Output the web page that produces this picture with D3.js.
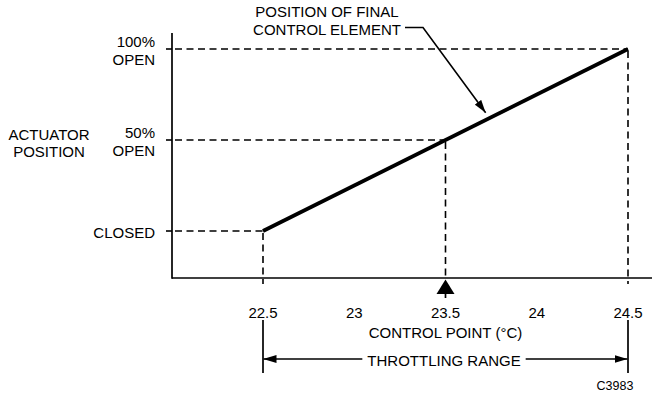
<!DOCTYPE html>
<html><head><meta charset="utf-8">
<script src="https://cdn.jsdelivr.net/npm/d3@7"></script>
<style>
html,body{margin:0;padding:0;background:#fff;}
svg{display:block;}
text{font-family:"Liberation Sans",Arial,sans-serif;fill:#000;}
</style></head>
<body>
<svg id="chart" width="654" height="396"></svg>
<script>
// ---- data ----
const tempTicks = [22.5, 23, 23.5, 24, 24.5];
const tempTickLabels = ["22.5", "23", "23.5", "24", "24.5"];
const positionLevels = [0, 50, 100];
const positionLabels = [["CLOSED"], ["50%", "OPEN"], ["100%", "OPEN"]];
const lineTemps = [22.5, 24.5];
const linePositions = [0, 100];
const controlPoint = 23.5;
const throttlingRange = [22.5, 24.5];
const xTitle = "CONTROL POINT (°C)";
const yTitle = ["ACTUATOR", "POSITION"];
const annotationText = ["POSITION OF FINAL", "CONTROL ELEMENT"];
const annotationTarget = [23.72, 65];
const rangeLabel = "THROTTLING RANGE";
const figureCode = "C3983";

// ---- layout ----
const svg = d3.select("#chart");
const x = d3.scaleLinear().domain([22.5, 24.5]).range([263, 628]);
const y = d3.scaleLinear().domain([0, 100]).range([231, 49]);
const axisX0 = 172, axisY0 = 278, axisTop = 33, axisRight = 652;
const FS = 15;

const defs = svg.append("defs");
defs.append("marker").attr("id", "ah").attr("viewBox", "0 0 13 8")
  .attr("refX", 13).attr("refY", 4).attr("markerWidth", 13).attr("markerHeight", 8)
  .attr("markerUnits", "userSpaceOnUse").attr("orient", "auto")
  .append("path").attr("d", "M0,0L13,4L0,8Z").attr("fill", "#000");

// axes lines
svg.append("line").attr("x1", axisX0).attr("x2", axisX0).attr("y1", axisTop).attr("y2", axisY0 + 0.8)
  .attr("stroke", "#000").attr("stroke-width", 1.7);
svg.append("line").attr("x1", axisX0).attr("x2", axisRight).attr("y1", axisY0).attr("y2", axisY0)
  .attr("stroke", "#000").attr("stroke-width", 1.7);

// horizontal dashed guides + ticks
const dash = "7,4.5";
const dw = 1.6;
positionLevels.forEach((p, i) => {
  const t = lineTemps[0] + (p - linePositions[0]) / (linePositions[1] - linePositions[0]) * (lineTemps[1] - lineTemps[0]);
  svg.append("line").attr("x1", axisX0 - 6).attr("x2", axisX0).attr("y1", y(p)).attr("y2", y(p))
    .attr("stroke", "#000").attr("stroke-width", dw);
  svg.append("line").attr("x1", axisX0 + 3).attr("x2", x(t)).attr("y1", y(p)).attr("y2", y(p))
    .attr("stroke", "#000").attr("stroke-width", dw).attr("stroke-dasharray", dash);
  const bottom = (t === controlPoint) ? axisY0 : axisY0 + 6;
  svg.append("line").attr("x1", x(t)).attr("x2", x(t)).attr("y1", y(p) + 2).attr("y2", bottom)
    .attr("stroke", "#000").attr("stroke-width", dw).attr("stroke-dasharray", dash);
  const lines = positionLabels[i];
  const lh = 17.5;
  const base0 = y(p) + 6 - (lines.length - 1) * lh / 2 + 1;
  const txt = svg.append("text").attr("text-anchor", "end").attr("font-size", FS);
  lines.forEach((l, j) => txt.append("tspan").attr("x", 155).attr("y", base0 + j * lh).text(l));
});

// y title
const yt = svg.append("text").attr("text-anchor", "middle").attr("font-size", FS);
yTitle.forEach((l, j) => yt.append("tspan").attr("x", 49).attr("y", 139.5 + j * 17.5).text(l));

// main line
svg.append("path")
  .datum(lineTemps.map((t, i) => [t, linePositions[i]]))
  .attr("d", d3.line().x(d => x(d[0])).y(d => y(d[1])))
  .attr("fill", "none").attr("stroke", "#000").attr("stroke-width", 3.8).attr("stroke-linecap", "butt");

// x tick labels
svg.selectAll(".xt").data(tempTicks).enter().append("text")
  .attr("x", d => x(d)).attr("y", 318).attr("text-anchor", "middle").attr("font-size", FS)
  .text((d, i) => tempTickLabels[i]);

// x title
svg.append("text").attr("x", x(controlPoint)).attr("y", 338).attr("text-anchor", "middle")
  .attr("font-size", FS).text(xTitle);

// control point arrow
const cx = x(controlPoint);
svg.append("path").attr("d", `M${cx},${axisY0 + 1.5}L${cx + 9},${axisY0 + 16}L${cx - 9},${axisY0 + 16}Z`).attr("fill", "#000");
svg.append("line").attr("x1", cx).attr("x2", cx).attr("y1", axisY0 + 15).attr("y2", axisY0 + 20)
  .attr("stroke", "#000").attr("stroke-width", 1.7);

// throttling range
const rx0 = x(throttlingRange[0]), rx1 = x(throttlingRange[1]);
[rx0, rx1].forEach(v => svg.append("line").attr("x1", v).attr("x2", v).attr("y1", 320).attr("y2", 373)
  .attr("stroke", "#000").attr("stroke-width", 1.7));
const ry = 359;
const rl = svg.append("text").attr("x", 444).attr("y", 366).attr("text-anchor", "middle")
  .attr("font-size", FS).text(rangeLabel);
const rw = rl.node().getComputedTextLength();
svg.append("line").attr("x1", 444 - rw / 2 - 5).attr("x2", rx0 + 0.5).attr("y1", ry).attr("y2", ry)
  .attr("stroke", "#000").attr("stroke-width", 1.7).attr("marker-end", "url(#ah)");
svg.append("line").attr("x1", 444 + rw / 2 + 5).attr("x2", rx1 - 0.5).attr("y1", ry).attr("y2", ry)
  .attr("stroke", "#000").attr("stroke-width", 1.7).attr("marker-end", "url(#ah)");

// figure code
svg.append("text").attr("x", 615).attr("y", 390).attr("text-anchor", "middle")
  .attr("font-size", 12.5).text(figureCode);

// annotation
const at = svg.append("text").attr("text-anchor", "middle").attr("font-size", FS);
annotationText.forEach((l, j) => at.append("tspan").attr("x", 327).attr("y", 17 + j * 17.5).text(l));
svg.append("path")
  .attr("d", `M405,27.5L423,27.5L${x(annotationTarget[0])},${y(annotationTarget[1])}`)
  .attr("fill", "none").attr("stroke", "#000").attr("stroke-width", 1.6).attr("marker-end", "url(#ah)");
</script>
</body></html>
